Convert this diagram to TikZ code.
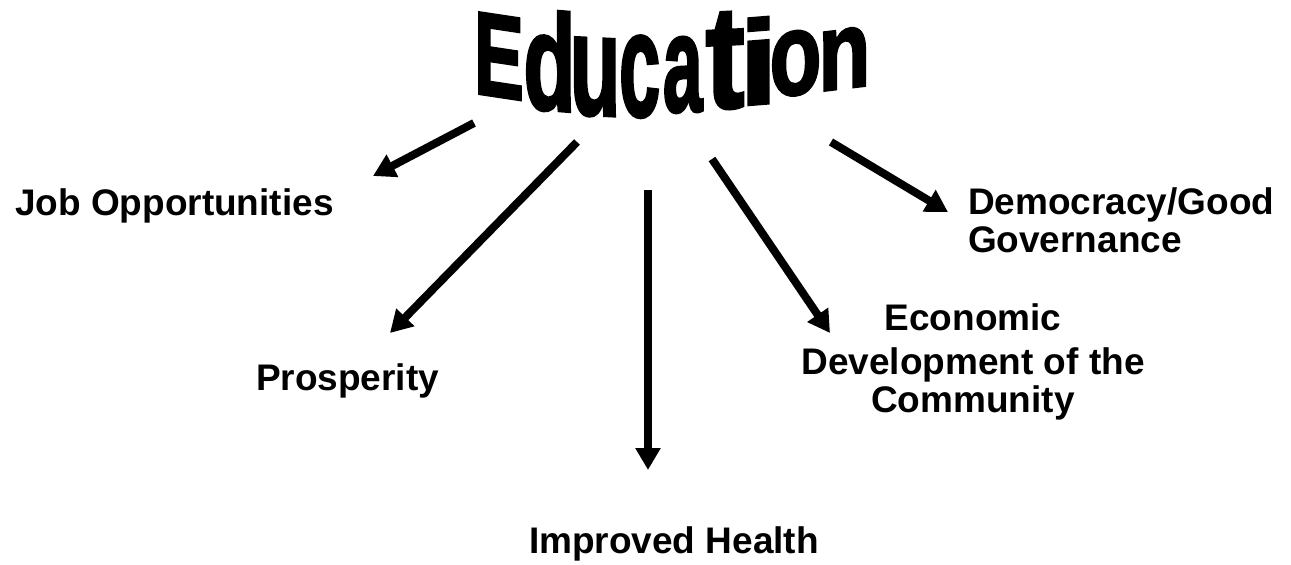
\documentclass[tikz,border=0pt]{standalone}
\usepackage{fontspec}
\setmainfont{Liberation Sans}
\newfontfamily\titlefont{Liberation Sans}[BoldFeatures={FakeBold=2.5}]
\usepackage{graphicx}
\usetikzlibrary{arrows.meta}

% a letter with its side bearings cut away, so the box is as wide as the ink
\newcommand\inkbox[1]{\kern-\XeTeXglyphbounds1 \XeTeXcharglyph`#1 #1\kern-\XeTeXglyphbounds3 \XeTeXcharglyph`#1 }

\begin{document}
\begin{tikzpicture}[x=0.5pt, y=-0.5pt, >={Triangle[length=11pt,width=12pt]}, line width=4pt,
    outcome/.style={inner sep=0pt, font=\bfseries\fontsize{18.5}{19}\selectfont},
    glyph/.style={inner sep=0pt, anchor=south west, font=\titlefont\bfseries}]
    \useasboundingbox (0,0) rectangle (1291,564);

    % Title, set one letter at a time so the word bulges downwards
    \foreach \ch/\xl/\xr/\ytop/\ybot/\sl [count=\k] in {E/474/518/15/98/-0.15, d/522/567/13/114/-0.08,
        u/570/612/42/120/-0.05, c/617/655/40/122/-0.02, a/660/700/42/118/0.02, t/702/740/18/115/0.05,
        i/744/765/22/110/0.08, o/768/815/38/103/0.1, n/819/862/35/96/0.12} {
        \pgfmathsetmacro\hh{(\ybot-\ytop-2)/2}
        \pgfmathsetmacro\ww{(\xr-\xl-2)/2}
        \node[glyph, yslant=\sl] (ed\k) at (\xl+1,\ybot-1)
            {\resizebox{\ww pt}{\hh pt}{\expandafter\inkbox\expandafter{\ch}}};
    }

    \node[outcome, anchor=base west] (job) at (11,215) {Job Opportunities};
    \node[outcome, anchor=base west] (pros) at (252,390) {Prosperity};
    \node[outcome, anchor=base west] (health) at (525,553) {Improved Health};
    \node[outcome, anchor=north, align=center] (econ) at (973,300) {Economic\\[3pt]Development of the\\Community};
    \node[outcome, anchor=north west, align=left] (demo) at (964,184) {Democracy/Good\\Governance};

    % Free ends of the arrows
    \coordinate (jobS) at (474,123);    \coordinate (jobT) at (373,176);
    \coordinate (prosS) at (577,142);   \coordinate (prosT) at (390,333);
    \coordinate (healthS) at (648,190); \coordinate (healthT) at (648,470);
    \coordinate (econS) at (712,159);   \coordinate (econT) at (830,333);
    \coordinate (demoS) at (831,142);   \coordinate (demoT) at (948,212);

    % Create edge connections
    \draw[->] (jobS) -- (jobT);
    \draw[->] (prosS) -- (prosT);
    \draw[->] (healthS) -- (healthT);
    \draw[->] (econS) -- (econT);
    \draw[->] (demoS) -- (demoT);
\end{tikzpicture}
\end{document}
